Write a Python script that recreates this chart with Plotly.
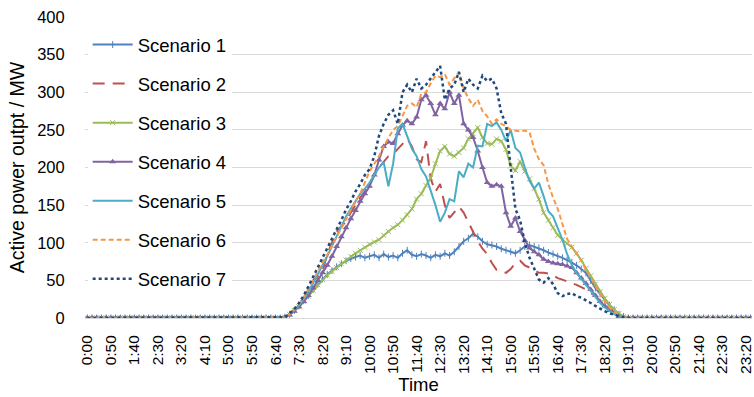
import plotly.graph_objects as go

# 10-minute time categories for one day
times = [f"{h}:{m:02d}" for h in range(24) for m in range(0, 60, 10)]

tick_labels = ["0:00", "0:50", "1:40", "2:30", "3:20", "4:10", "5:00", "5:50", "6:40",
               "7:30", "8:20", "9:10", "10:00", "10:50", "11:40", "12:30", "13:20",
               "14:10", "15:00", "15:50", "16:40", "17:30", "18:20", "19:10", "20:00",
               "20:50", "21:40", "22:30", "23:20"]

# night hours (0:00-6:50 and 19:20-23:50) read as zero output
night_am = [0] * 42
night_pm = [0] * 28

# daytime values 7:00 .. 19:10 (MW)
s1_day = [1, 5, 10, 16, 23, 30, 38, 45, 52, 58,
          63, 68, 72, 76, 79, 81, 83, 80, 82, 84,
          80, 85, 81, 83, 80, 86, 90, 84, 82, 85,
          83, 80, 84, 82, 86, 83, 88, 95, 102, 106,
          112, 108, 102, 98, 97, 95, 92, 90, 88, 86,
          90, 95, 97, 95, 93, 90, 87, 85, 82, 80,
          77, 74, 70, 65, 60, 50, 40, 32, 24, 17,
          11, 5, 2, 0]
s2_day = [1, 5, 11, 18, 27, 38, 50, 55, 62, 85,
          100, 115, 122, 128, 140, 150, 160, 168, 178, 189,
          200, 208, 215, 218, 225, 232, 238, 228, 211, 207,
          235, 185, 168, 178, 150, 133, 140, 148, 140, 127,
          113, 102, 92, 85, 73, 64, 62, 60, 65, 73,
          76, 70, 67, 63, 60, 60, 59, 57, 53, 51,
          49, 47, 44, 41, 38, 33, 29, 23, 18, 12,
          7, 3, 1, 0]
s3_day = [1, 5, 10, 15, 22, 29, 37, 44, 51, 57,
          62, 67, 72, 77, 82, 86, 90, 94, 98, 101,
          104, 110, 115, 120, 124, 130, 137, 145, 158, 165,
          176, 186, 205, 222, 228, 218, 215, 220, 226, 238,
          245, 253, 240, 232, 231, 238, 235, 224, 202, 196,
          208, 195, 185, 172, 158, 140, 130, 120, 110, 104,
          99, 94, 86, 77, 66, 56, 45, 35, 26, 18,
          11, 6, 2, 0]
s4_day = [1, 4, 9, 15, 22, 30, 40, 50, 60, 70,
          82, 95, 108, 120, 132, 143, 155, 165, 175, 190,
          210, 228, 234, 232, 245, 256, 262, 258, 267, 290,
          296, 285, 270, 285, 278, 300, 285, 296, 258, 250,
          240, 222, 200, 180, 175, 177, 175, 140, 122, 133,
          115, 103, 93, 88, 84, 78, 75, 73, 72, 71,
          69, 67, 60, 53, 46, 38, 30, 22, 16, 10,
          6, 2, 0, 0]
s5_day = [1, 5, 10, 17, 25, 35, 46, 58, 70, 82,
          95, 110, 122, 135, 145, 155, 165, 172, 180, 190,
          200, 207, 175, 205, 252, 258, 240, 225, 215, 198,
          188, 170, 150, 128, 140, 158, 155, 195, 187, 205,
          200, 229, 228, 258, 255, 260, 250, 235, 250, 226,
          220, 200, 182, 172, 180, 162, 142, 135, 120, 104,
          85, 70, 60, 52, 44, 35, 28, 20, 14, 9,
          5, 2, 0, 0]
s6_day = [1, 5, 11, 18, 27, 38, 50, 62, 74, 84,
          96, 108, 120, 131, 143, 155, 165, 180, 195, 205,
          215, 228, 240, 250, 255, 268, 282, 285, 280, 298,
          300, 312, 322, 320, 324, 310, 318, 327, 305, 292,
          282, 290, 275, 268, 258, 264, 258, 255, 250, 249,
          248, 249, 247, 225, 211, 203, 178, 160, 145, 125,
          105, 95, 86, 76, 64, 53, 42, 32, 22, 14,
          8, 4, 1, 0]
s7_day = [1, 6, 12, 20, 30, 42, 55, 68, 80, 92,
          105, 118, 130, 144, 155, 168, 178, 190, 198, 215,
          242, 258, 270, 276, 258, 300, 310, 300, 318, 305,
          310, 318, 326, 335, 290, 305, 310, 327, 300, 318,
          310, 305, 322, 315, 318, 305, 272, 258, 200, 145,
          130, 100, 80, 65, 51, 47, 53, 45, 33, 29,
          32, 33, 29, 27, 24, 20, 16, 12, 9, 6,
          4, 2, 1, 0]

names = ["Scenario 1", "Scenario 2", "Scenario 3", "Scenario 4",
         "Scenario 5", "Scenario 6", "Scenario 7"]
day_series = [s1_day, s2_day, s3_day, s4_day, s5_day, s6_day, s7_day]

colors = ["#4F81BD", "#C0504D", "#9BBB59", "#8064A2", "#4BACC6", "#F79646", "#1F497D"]
dashes = ["solid", "12px,8px", "solid", "solid", "solid", "5px,3px", "dot"]
widths = [2, 2, 2, 2, 2, 2, 2.5]
markers = [
    dict(symbol="line-ns", size=5, line=dict(width=1, color=colors[0])),
    None,
    dict(symbol="x-thin", size=5, line=dict(width=1, color=colors[2])),
    dict(symbol="triangle-up", size=6, color=colors[3]),
    None, None, None,
]

fig = go.Figure()
for k in range(7):
    y = night_am + day_series[k] + night_pm
    mk = markers[k]
    fig.add_trace(go.Scatter(
        x=times, y=y, name=names[k], legendgroup=names[k],
        mode="lines+markers" if mk else "lines",
        line=dict(color=colors[k], width=widths[k], dash=dashes[k]),
        marker=mk if mk else None,
    ))

font_family = "Liberation Sans, Arial, sans-serif"
fig.update_layout(
    width=754, height=397,
    margin=dict(l=85, r=0, t=17, b=79),
    paper_bgcolor="white", plot_bgcolor="white",
    font=dict(family=font_family, color="#000000"),
    legend=dict(
        x=0.004, y=0.97, xanchor="left", yanchor="top",
        bgcolor="white", font=dict(size=18.5, family=font_family),
        traceorder="grouped", tracegroupgap=12, itemwidth=40,
    ),
    xaxis=dict(
        type="category", range=[-0.5, 141.3],
        tickmode="array", tickvals=[times[i] for i in range(0, 141, 5)],
        ticktext=tick_labels, tickangle=-90,
        tickfont=dict(size=15.5), ticks="outside", ticklen=10, tickcolor="rgba(0,0,0,0)",
        showgrid=False, showline=True, linecolor="#D9D9D9", linewidth=1,
        title=dict(text="Time", font=dict(size=18.5), standoff=4),
    ),
    yaxis=dict(
        range=[0, 400], dtick=50, showgrid=True, gridcolor="#D9D9D9", gridwidth=1,
        zeroline=False, tickfont=dict(size=16.5),
        ticks="outside", ticklen=16, tickcolor="rgba(0,0,0,0)",
        title=dict(text="Active power outpt / MW", font=dict(size=19.5), standoff=7),
    ),
)

fig.write_html("out.html")
